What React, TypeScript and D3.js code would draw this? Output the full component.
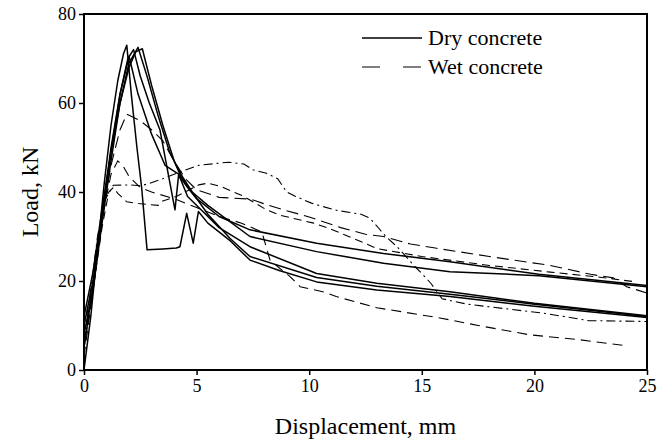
import * as d3 from "d3";
import { useRef, useEffect } from "react";

// load-displacement curves, [displacement mm, load kN]
const dryA = [[0, 0], [0.3, 12], [0.6, 27], [0.9, 42], [1.2, 55], [1.5, 65], [1.75, 71], [1.9, 73], [2.1, 62], [2.35, 50], [2.56, 41], [2.8, 27], [3.5, 27.2], [4.1, 27.4], [4.26, 27.7], [4.56, 35.2], [4.85, 28.5], [5.08, 35.6], [5.5, 33], [6.5, 29], [7.37, 24.7], [8.7, 22.3], [10.33, 19.8], [13, 18], [16.25, 16.5], [20, 14.3], [25, 11.8]];
const dryB = [[0, 10], [0.4, 20], [0.8, 35], [1.2, 50], [1.6, 62], [1.95, 70], [2.2, 72], [2.5, 66], [2.9, 60], [3.37, 54], [4.04, 36], [4.2, 43.8], [4.6, 41], [5, 38.5], [6, 34.5], [7.37, 31.5], [10.33, 28.5], [13.3, 26.2], [16.25, 24.3], [20.2, 21.5], [25, 19]];
const dryC = [[0, 12], [0.4, 22], [0.8, 36], [1.2, 49], [1.6, 60], [2.0, 68], [2.3, 71.5], [2.59, 72.2], [3.0, 64], [3.5, 55], [4.0, 47], [4.3, 43.5], [4.8, 40], [5.5, 37], [7.37, 30], [10.33, 26.6], [13.3, 24], [16.25, 22.1], [20.2, 21.2], [25, 18.7]];
const dryD = [[0, 8], [0.4, 18], [0.8, 33], [1.2, 47], [1.6, 60], [2.0, 69], [2.4, 72.5], [2.8, 66], [3.3, 57], [3.8, 49], [4.3, 44], [4.8, 40], [5.5, 35], [6.5, 29.5], [7.37, 25.5], [10.33, 20.8], [13, 18.8], [16.25, 17], [20, 14.8], [25, 12]];
const dryE = [[0, 5], [0.4, 19], [0.8, 34], [1.2, 49], [1.6, 62], [2.0, 70.5], [2.4, 62], [3.0, 53], [3.6, 46], [4.2, 44], [4.6, 39], [5.2, 36], [6, 32], [7.37, 27.7], [10.33, 21.7], [13, 19.5], [16.25, 17.6], [20, 15], [25, 12.2]];

const wetA = [[0, 8], [0.3, 18], [0.6, 30], [0.9, 38], [1.3, 41.5], [2.0, 41.6], [2.5, 41.4], [2.9, 41.9], [3.5, 43], [4.3, 44.6], [5.1, 46], [6.4, 46.7], [7.1, 46.3], [7.5, 45], [8.1, 44.2], [8.6, 43], [9.0, 40], [9.4, 39], [10.1, 37.5], [10.7, 36.6], [11.3, 35.8], [12.3, 35], [12.7, 34.1], [13.1, 31.8], [13.4, 30], [13.9, 27.7], [14.3, 25.5], [14.7, 23.2], [15.0, 21.7], [15.4, 19.5], [15.9, 16], [17, 14.8], [20.5, 12.7], [22.4, 11.1], [25, 10.9]];
const wetB = [[0, 6], [0.4, 20], [0.8, 35], [1.2, 46], [1.6, 54], [1.9, 57.5], [2.5, 56], [3.0, 54], [3.5, 51.5], [4.0, 47], [4.5, 43], [5.0, 40.5], [6, 38.8], [7.4, 38.4], [8.2, 37], [8.85, 36], [10, 34.4], [11.4, 32], [12.5, 30.5], [13.3, 30], [14.5, 28.3], [15.6, 27.4], [18, 25.5], [20.7, 23.5], [22.5, 21.5], [23.5, 20.7], [24.1, 18.7], [25, 17.3]];
const wetC = [[0, 5], [0.4, 18], [0.8, 32], [1.1, 40], [1.3, 41], [1.5, 39.7], [1.9, 37.8], [2.4, 37.4], [3.3, 37], [3.5, 38], [4.1, 39], [5.1, 41.6], [5.5, 42], [6.1, 41.2], [7.1, 39], [8.1, 36], [8.7, 34.8], [10.2, 33], [10.9, 31.8], [12, 29.5], [13, 27.3], [15, 25.5], [18, 23.5], [20.7, 22], [23, 20.8], [24.5, 19.8]];
const wetD = [[0, 3], [0.4, 18], [0.8, 34], [1.2, 44], [1.5, 47], [1.75, 45.7], [2.0, 43.5], [2.5, 41], [3.0, 40], [4, 38.5], [5, 36.5], [6, 34.5], [7, 33], [7.9, 31], [8.26, 24.7], [8.7, 22.8], [9.15, 21], [9.6, 18.7], [10.6, 17.6], [11.2, 16.5], [13, 14], [15.8, 11.7], [17.5, 10], [19.8, 7.9], [22, 6.8], [24, 5.5]];

const dryCurves = [dryA, dryB, dryC, dryD, dryE];
const wetCurves = [wetA, wetB, wetC, wetD];
const wetDashes = ["9,4,2,4", "12,6", "8,5", "10,6"];

const xTicks = [0, 5, 10, 15, 20, 25];
const yTicks = [0, 20, 40, 60, 80];
const legendLabels = ["Dry concrete", "Wet concrete"];

function LoadChart() {
    const ref = useRef(null);

    const width = 669;
    const height = 447;
    const marginLeft = 84;
    const marginRight = 22;
    const marginTop = 14;
    const marginBottom = 77;

    useEffect(() => {
        const svg = d3.select(ref.current);
        svg.selectAll("*").remove();

        const x = d3.scaleLinear().domain([0, 25]).range([marginLeft, width - marginRight]);
        const y = d3.scaleLinear().domain([0, 80]).range([height - marginBottom, marginTop]);

        const font = "'Liberation Serif', serif";

        const line = d3.line()
            .x(d => x(d[0]))
            .y(d => y(d[1]));

        // wet concrete, dashed
        svg.append("g")
            .selectAll("path")
            .data(wetCurves)
            .join("path")
                .attr("d", line)
                .attr("fill", "none")
                .attr("stroke", "#000")
                .attr("stroke-width", 1.1)
                .attr("stroke-dasharray", (d, i) => wetDashes[i]);

        // dry concrete, solid
        svg.append("g")
            .selectAll("path")
            .data(dryCurves)
            .join("path")
                .attr("d", line)
                .attr("fill", "none")
                .attr("stroke", "#000")
                .attr("stroke-width", 1.5)
                .attr("stroke-linejoin", "round");

        // frame
        svg.append("rect")
            .attr("x", x(0))
            .attr("y", y(80))
            .attr("width", x(25) - x(0))
            .attr("height", y(0) - y(80))
            .attr("fill", "none")
            .attr("stroke", "#000")
            .attr("stroke-width", 2);

        const xAxis = svg.append("g")
            .attr("transform", `translate(0,${y(0)})`)
            .call(d3.axisBottom(x).tickValues(xTicks).tickSize(5).tickPadding(4));
        xAxis.attr("font-family", font);
        xAxis.select(".domain").remove();
        xAxis.selectAll("line").attr("stroke-width", 1.5);
        xAxis.selectAll("text").attr("font-size", 18).attr("fill", "#000");

        const yAxis = svg.append("g")
            .attr("transform", `translate(${x(0)},0)`)
            .call(d3.axisLeft(y).tickValues(yTicks).tickSize(5).tickPadding(3));
        yAxis.attr("font-family", font);
        yAxis.select(".domain").remove();
        yAxis.selectAll("line").attr("stroke-width", 1.5);
        yAxis.selectAll("text").attr("font-size", 18).attr("fill", "#000");

        svg.append("text")
            .attr("x", (x(0) + x(25)) / 2)
            .attr("y", 434)
            .attr("text-anchor", "middle")
            .attr("font-size", 24)
            .attr("font-family", font)
            .text("Displacement, mm");

        svg.append("text")
            .attr("transform", `translate(38,${(y(0) + y(80)) / 2}) rotate(-90)`)
            .attr("text-anchor", "middle")
            .attr("font-size", 24)
            .attr("font-family", font)
            .text("Load, kN");

        // legend
        const legend = svg.append("g");
        legendLabels.forEach((label, i) => {
            const ly = 38 + i * 29;
            legend.append("line")
                .attr("x1", 362).attr("x2", 422)
                .attr("y1", ly).attr("y2", ly)
                .attr("stroke", "#000")
                .attr("stroke-width", i === 0 ? 1.5 : 1.2)
                .attr("stroke-dasharray", i === 0 ? null : "18,23");
            legend.append("text")
                .attr("x", 428)
                .attr("y", ly + 7)
                .attr("font-size", 22)
                .attr("font-family", font)
                .text(label);
        });
    }, []);

    return (
        <svg ref={ref} width={width} height={height} viewBox={`0 0 ${width} ${height}`}
            style={{ position: "absolute", left: 0, top: 0, background: "#fff" }}></svg>
    );
}

export default function App() {
    return <LoadChart />;
}
